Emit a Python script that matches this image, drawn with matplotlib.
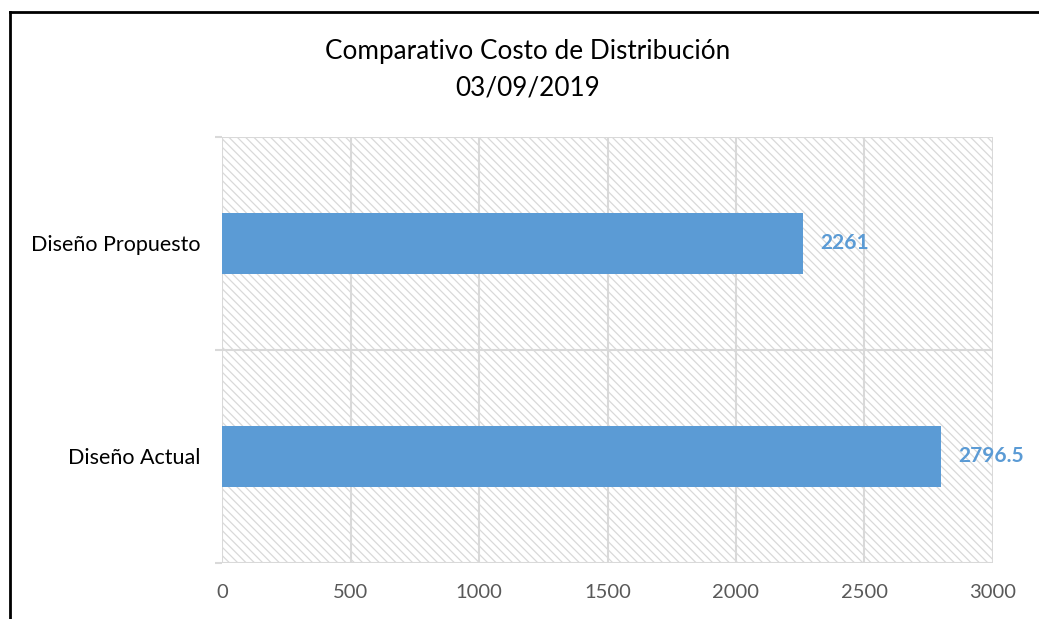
import matplotlib
matplotlib.use("Agg")
import matplotlib.pyplot as plt
from matplotlib.patches import Rectangle
from matplotlib.lines import Line2D

categories = ["Diseño Actual", "Diseño Propuesto"]
values = [2796.5, 2261]
value_labels = ["2796.5", "2261"]
xticks = [0, 500, 1000, 1500, 2000, 2500, 3000]

plt.rcParams["font.family"] = ["Lato", "DejaVu Sans"]
plt.rcParams["hatch.linewidth"] = 0.9
plt.rcParams["hatch.color"] = "#d6d6d6"

GRID = "#d9d9d9"
BAR = "#5b9bd5"
TXT = "#595959"

fig = plt.figure(figsize=(10.39, 6.19), dpi=100)
ax = fig.add_axes([0.2137, 0.0905, 0.7420, 0.6882])

# hatched plot background
ax.add_patch(Rectangle((0, -0.5), 3000, 2, facecolor="white", edgecolor=GRID,
                       hatch="\\\\\\\\", lw=0, zorder=0))

ax.barh(range(len(categories)), values, height=0.285, color=BAR, zorder=3)
for i, (v, lab) in enumerate(zip(values, value_labels)):
    ax.annotate(lab, (v, i), xytext=(12.5, 0), textcoords="offset points",
                va="center", ha="left", color=BAR, fontsize=15, fontweight="bold")

ax.set_xlim(0, 3000)
ax.set_ylim(-0.5, 1.5)
ax.set_xticks(xticks)
ax.set_yticks(range(len(categories)))
ax.set_yticklabels(categories)
ax.set_yticks([-0.5, 0.5, 1.5], minor=True)
ax.tick_params(axis="y", which="major", length=0, pad=15.5, labelsize=15.5, labelcolor="black")
ax.tick_params(axis="y", which="minor", length=5, width=1.5, color=GRID)
ax.tick_params(axis="x", length=0, pad=15, labelsize=14.5, labelcolor=TXT)

for x in xticks:
    ax.axvline(x, color=GRID, lw=1.5, zorder=1)
for y in [-0.5, 0.5, 1.5]:
    ax.axhline(y, color=GRID, lw=1.5, zorder=1)
for s in ax.spines.values():
    s.set_visible(False)

fig.text(0.508, 0.887, "Comparativo Costo de Distribución\n03/09/2019",
         ha="center", va="center", fontsize=18.8, linespacing=1.55)

# outer chart frame (clipped at right and bottom)
fig.add_artist(Line2D([0.0092, 0.0092], [0, 0.981], color="black", lw=2, transform=fig.transFigure))
fig.add_artist(Line2D([0.0092, 1], [0.981, 0.981], color="black", lw=2, transform=fig.transFigure))

fig.savefig("out.png", dpi=100)
